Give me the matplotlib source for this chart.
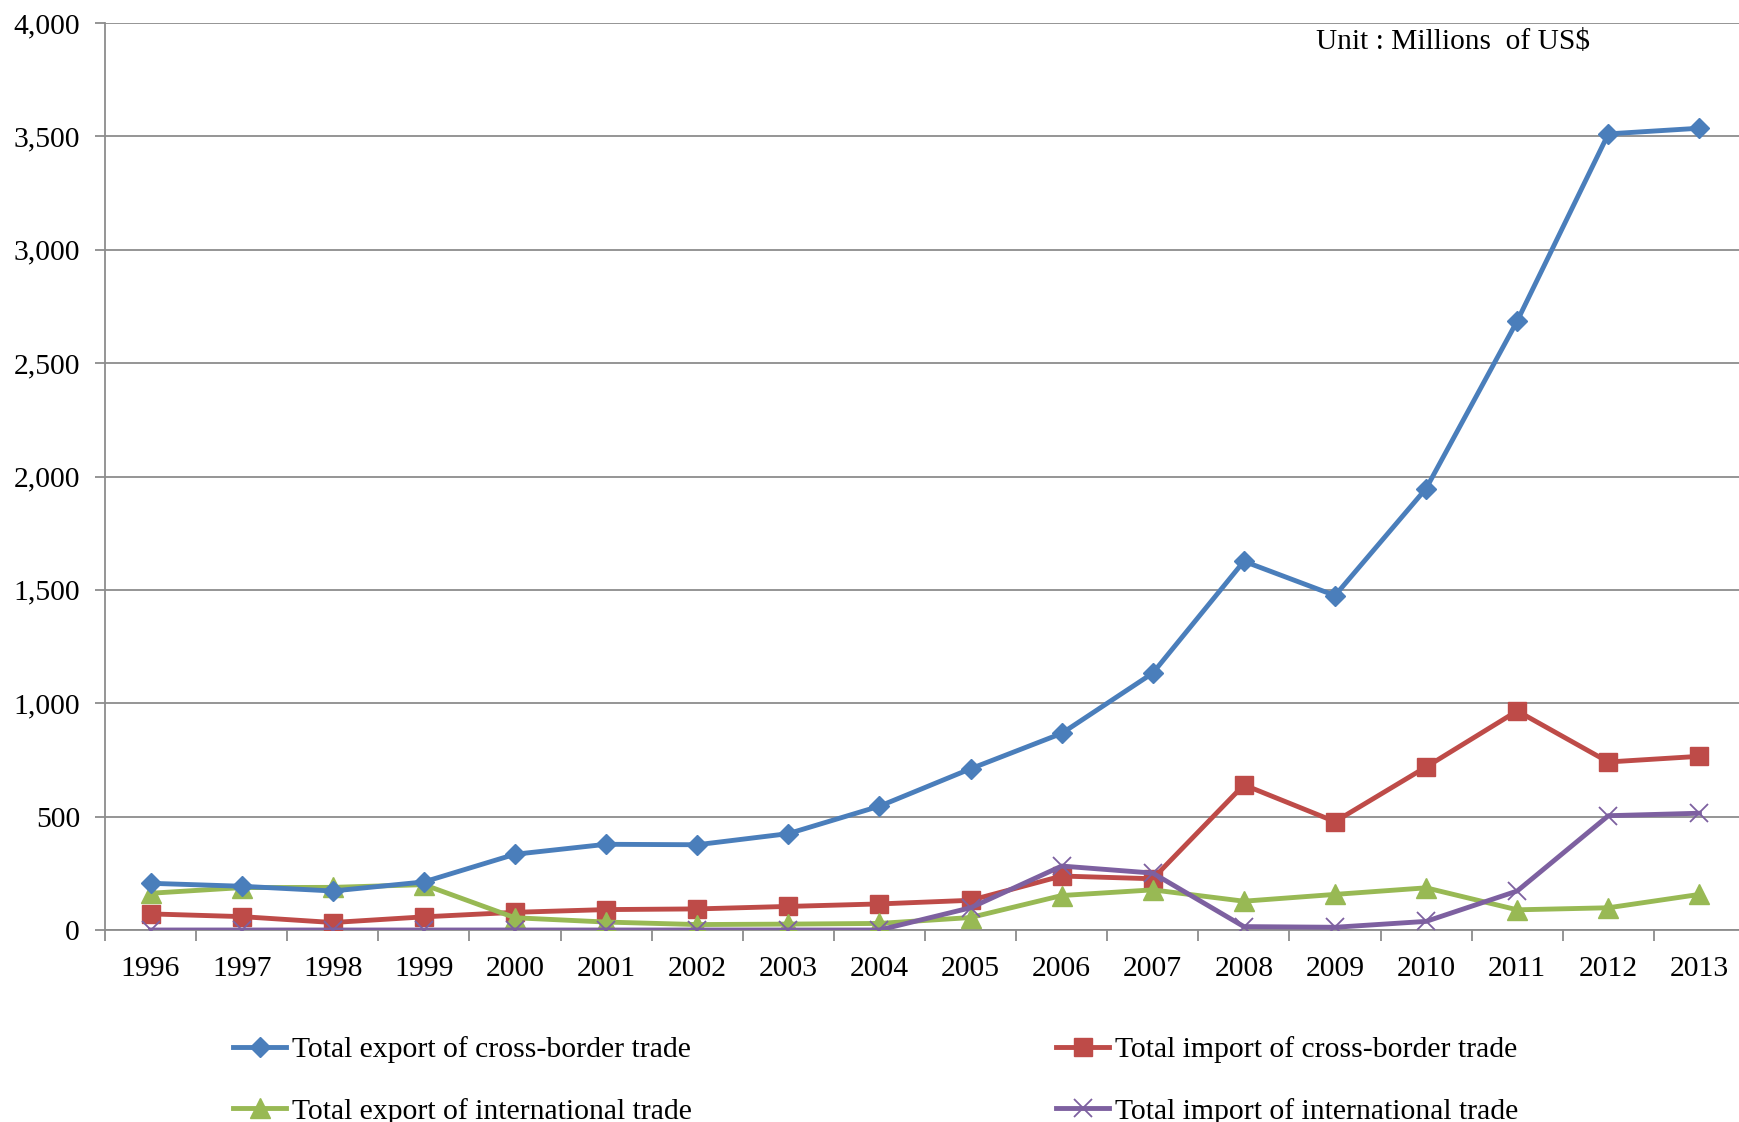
import matplotlib
matplotlib.use("Agg")
import matplotlib.pyplot as plt
from matplotlib.ticker import FuncFormatter

plt.rcParams['font.family'] = ['Liberation Serif', 'DejaVu Serif']

years = ['1996', '1997', '1998', '1999', '2000', '2001', '2002', '2003', '2004',
         '2005', '2006', '2007', '2008', '2009', '2010', '2011', '2012', '2013']

export_cross = [206, 193, 172, 212, 334, 378, 376, 425, 546,
                711, 867, 1133, 1626, 1475, 1947, 2686, 3511, 3536]
import_cross = [71, 59, 33, 58, 78, 90, 93, 104, 115,
                131, 238, 226, 640, 478, 719, 966, 741, 766]
export_intl = [162, 187, 188, 200, 54, 35, 24, 26, 29,
               55, 152, 177, 127, 157, 186, 89, 98, 157]
import_intl = [0, 0, 0, 0, 0, 0, 0, 0, 0,
               98, 282, 251, 15, 12, 38, 172, 504, 515]

labels = ['Total export of cross-border trade',
          'Total import of cross-border trade',
          'Total export of international trade',
          'Total import of international trade']

blue = '#4A7EBB'
red = '#BE4B48'
green = '#98B954'
purple = '#7D60A0'
grid_col = '#8C8C8C'
fs = 21.3

W, H = 1739, 1122
fig = plt.figure(figsize=(W / 100, H / 100), dpi=100)
ax = fig.add_axes([105 / W, 1 - 930 / H, 1640 / W, 907 / H])

x = list(range(len(years)))
h1, = ax.plot(x, export_cross, color=blue, lw=3.5, marker='D', ms=10.5,
              mfc=blue, mec=blue, label=labels[0], zorder=4)
h2, = ax.plot(x, import_cross, color=red, lw=3.5, marker='s', ms=13.5,
              mfc=red, mec=red, label=labels[1], zorder=3)
h3, = ax.plot(x, export_intl, color=green, lw=3.5, marker='^', ms=14,
              mfc=green, mec=green, label=labels[2], zorder=3)
h4, = ax.plot(x, import_intl, color=purple, lw=3.5, marker='x', ms=13.5,
              mew=1.3, mec=purple, label=labels[3], zorder=5)

ax.set_xlim(-0.5, len(years) - 0.5)
ax.set_ylim(0, 4000)
ax.set_yticks(range(0, 4001, 500))
ax.yaxis.set_major_formatter(FuncFormatter(lambda v, p: f'{int(v):,}'))
ax.grid(axis='y', color=grid_col, lw=1.3, zorder=0)
ax.set_axisbelow(True)

# category boundaries get tick marks, labels sit in between
ax.set_xticks([i - 0.5 for i in range(len(years) + 1)])
ax.set_xticklabels([])
ax.set_xticks(x, minor=True)
ax.set_xticklabels(years, minor=True)
ax.tick_params(axis='x', which='major', length=8, width=1.3, color=grid_col, direction='out')
ax.tick_params(axis='x', which='minor', length=0, pad=19, labelsize=fs)
ax.tick_params(axis='y', length=7, width=1.3, color=grid_col, pad=11, labelsize=fs)

for s in ['top', 'right']:
    ax.spines[s].set_visible(False)
for s in ['left', 'bottom']:
    ax.spines[s].set_color(grid_col)
    ax.spines[s].set_linewidth(1.3)

fig.text(1316 / W, 1 - 42 / H, 'Unit : Millions  of US$', fontsize=21.2,
         ha='left', va='center')

fig.legend([h1, h3, h2, h4], [labels[0], labels[2], labels[1], labels[3]],
           loc='upper left', bbox_to_anchor=(233 / W, 1 - 1036 / H), ncol=2,
           frameon=False, fontsize=fs, handlelength=1.8, handletextpad=0.2,
           columnspacing=12.3, labelspacing=1.17, numpoints=1, borderpad=0,
           borderaxespad=0)

fig.savefig('out.png', dpi=100)
